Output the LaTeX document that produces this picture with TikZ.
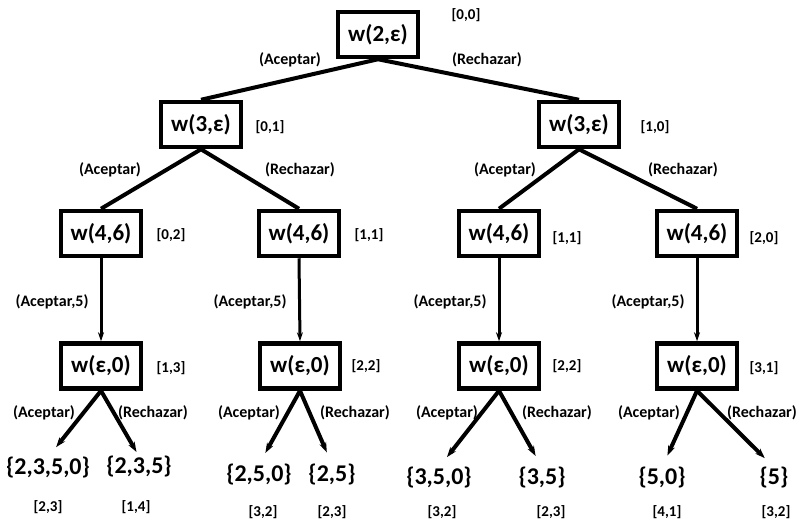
\documentclass[tikz,border=0pt]{standalone}
\usepackage{fontspec}
\setmainfont{Carlito}
\usetikzlibrary{arrows.meta}
\begin{document}
\begin{tikzpicture}[x=1pt,y=-1pt,
  wbox/.style={draw,line width=4.5pt,minimum width=80pt,minimum height=45pt,inner sep=0pt,font=\fontsize{23}{25}\selectfont\bfseries},
  lbl/.style={font=\fontsize{16}{18}\selectfont\bfseries,inner sep=0pt},
  sq/.style={font=\fontsize{15}{17}\selectfont\bfseries,inner sep=0pt},
  leaf/.style={font=\fontsize{24}{26}\selectfont\bfseries,inner sep=0pt,text height=17pt,text depth=6pt},
  edge/.style={line width=4pt},
  varr/.style={line width=3pt,-{Stealth[length=9pt,width=6pt]}},
  darr/.style={line width=4pt,-{Stealth[length=10pt,width=7pt]},shorten >=13pt}]
\useasboundingbox (0,0) rectangle (799,520);
% root
\node[wbox] (r) at (378,34.5) {w(2,ε)};
\node[sq] (sr) at (466,15) {[0,0]};
% level 1
\node[wbox] (a) at (201,124.5) {w(3,ε)};
\node[sq] (sa) at (270,127) {[0,1]};
\node[wbox] (b) at (579,124.5) {w(3,ε)};
\node[sq] (sb) at (655,127) {[1,0]};
\draw[edge] (r.south) -- (a.north);
\draw[edge] (r.south) -- (b.north);
\node[lbl] (la) at (290,60) {(Aceptar)};
\node[lbl] (lb) at (487,60) {(Rechazar)};
% level 2
\node[wbox] (c1) at (101,233.5) {w(4,6)};
\node[sq] (sc1) at (171,235) {[0,2]};
\node[wbox] (c2) at (299,233.5) {w(4,6)};
\node[sq] (sc2) at (369,235) {[1,1]};
\node[wbox] (c3) at (499,233.5) {w(4,6)};
\node[sq] (sc3) at (567,238) {[1,1]};
\node[wbox] (c4) at (697,233.5) {w(4,6)};
\node[sq] (sc4) at (764,238) {[2,0]};
\draw[edge] (a.south) -- (c1.north);
\draw[edge] (a.south) -- (c2.north);
\draw[edge] (b.south) -- (c3.north);
\draw[edge] (b.south) -- (c4.north);
\node[lbl] (l1) at (110,170) {(Aceptar)};
\node[lbl] (l2) at (300,170) {(Rechazar)};
\node[lbl] (l3) at (505,170) {(Aceptar)};
\node[lbl] (l4) at (683,170) {(Rechazar)};
% level 3
\node[wbox] (d1) at (101,366) {w(ε,0)};
\node[sq] (sd1) at (171,368) {[1,3]};
\node[wbox] (d2) at (300,366) {w(ε,0)};
\node[sq] (sd2) at (366,366) {[2,2]};
\node[wbox] (d3) at (499,366) {w(ε,0)};
\node[sq] (sd3) at (567,366) {[2,2]};
\node[wbox] (d4) at (697,366) {w(ε,0)};
\node[sq] (sd4) at (764,368) {[3,1]};
\draw[varr] (c1.south) -- (d1.north);
\draw[varr] (c2.south) -- (d2.north);
\draw[varr] (c3.south) -- (d3.north);
\draw[varr] (c4.south) -- (d4.north);
\node[lbl] (m1) at (52,302) {(Aceptar,5)};
\node[lbl] (m2) at (250,302) {(Aceptar,5)};
\node[lbl] (m3) at (450,302) {(Aceptar,5)};
\node[lbl] (m4) at (648,302) {(Aceptar,5)};
% leaves
\node[leaf] (e1) at (48,469) {\{2,3,5,0\}};
\node[leaf] (e2) at (139,468) {\{2,3,5\}};
\node[leaf] (e3) at (259,476) {\{2,5,0\}};
\node[leaf] (e4) at (332,476) {\{2,5\}};
\node[leaf] (e5) at (439,479) {\{3,5,0\}};
\node[leaf] (e6) at (542,479) {\{3,5\}};
\node[leaf] (e7) at (662,479) {\{5,0\}};
\node[leaf] (e8) at (774,479) {\{5\}};
\draw[darr] (d1.south) -- (e1.north);
\draw[darr,shorten >=5pt] (d1.south) -- (e2.north);
\draw[darr] (d2.south) -- (e3.north);
\draw[darr] (d2.south) -- (e4.north);
\draw[darr] (d3.south) -- (e5.north);
\draw[darr] (d3.south) -- (e6.north);
\draw[darr] (d4.south) -- (e7.north);
\draw[darr] (d4.south) -- (e8.north);
\node[lbl] (n1) at (44,413) {(Aceptar)};
\node[lbl] (n2) at (153,413) {(Rechazar)};
\node[lbl] (n3) at (249,413) {(Aceptar)};
\node[lbl] (n4) at (355,413) {(Rechazar)};
\node[lbl] (n5) at (447,413) {(Aceptar)};
\node[lbl] (n6) at (557,413) {(Rechazar)};
\node[lbl] (n7) at (649,413) {(Aceptar)};
\node[lbl] (n8) at (762,413) {(Rechazar)};
\node[sq] (f1) at (48,507) {[2,3]};
\node[sq] (f2) at (136,507) {[1,4]};
\node[sq] (f3) at (263,512) {[3,2]};
\node[sq] (f4) at (332,512) {[2,3]};
\node[sq] (f5) at (442,512) {[3,2]};
\node[sq] (f6) at (551,512) {[2,3]};
\node[sq] (f7) at (667,512) {[4,1]};
\node[sq] (f8) at (776,512) {[3,2]};
\end{tikzpicture}
\end{document}
